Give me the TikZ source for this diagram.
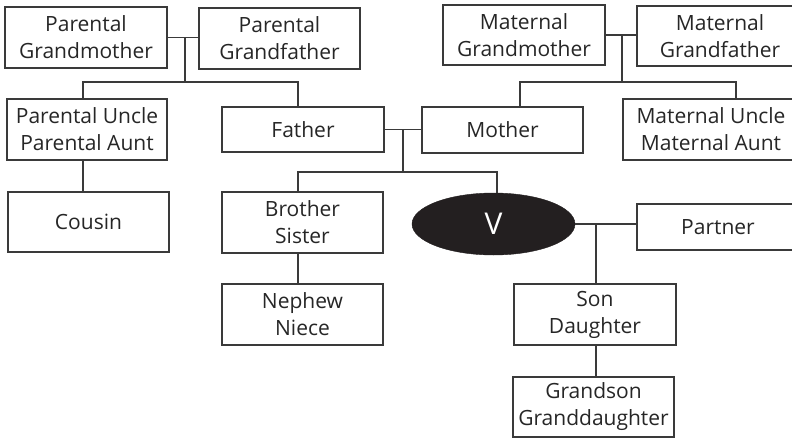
\documentclass[tikz,border=0pt]{standalone}
\usepackage{fontspec}
\setmainfont{Open Sans}
\usetikzlibrary{shapes.geometric}
\definecolor{ln}{HTML}{3A3A3A}
\definecolor{vfill}{HTML}{231F20}
\tikzset{
  box/.style={draw=ln, line width=1.1pt, rectangle, inner sep=0pt, align=center,
    font=\fontsize{21}{27}\selectfont, text=black!85},
  link/.style={draw=ln, line width=1.2pt},
}
\begin{document}
\begin{tikzpicture}[x=1pt,y=-1pt]
\useasboundingbox (0,0) rectangle (792,439);
\begin{scope}
\clip (0,0) rectangle (792,439);
% paternal side
\node[box, minimum width=162pt, minimum height=61pt] (pgm) at (86,37.5) {Parental\\Grandmother};
\node[box, minimum width=161pt, minimum height=61pt] (pgf) at (279.5,38.5) {Parental\\Grandfather};
\node[box, minimum width=160pt, minimum height=61pt] (pu) at (87,129.5) {Parental Uncle\\Parental Aunt};
\node[box, minimum width=162pt, minimum height=45pt] (fa) at (303,129.5) {Father};
\node[box, minimum width=161pt, minimum height=60pt] (co) at (88.5,222) {Cousin};
% maternal side
\node[box, minimum width=162pt, minimum height=60pt] (mgm) at (524,35) {Maternal\\Grandmother};
\node[box, minimum width=166pt, minimum height=60pt] (mgf) at (720,36) {Maternal\\Grandfather};
\node[box, minimum width=176pt, minimum height=61pt] (mu) at (711,129.5) {Maternal Uncle\\Maternal Aunt};
\node[box, minimum width=161pt, minimum height=46pt] (mo) at (502.5,130) {Mother};
% siblings and V
\node[box, minimum width=161pt, minimum height=61pt] (bs) at (302.5,222.5) {Brother\\Sister};
\node[box, minimum width=161pt, minimum height=61pt] (nn) at (302.5,314.5) {Nephew\\Niece};
\node[ellipse, fill=vfill, draw=vfill, minimum width=163pt, minimum height=62pt, inner sep=0pt,
  text=white, font=\fontsize{30}{32}\selectfont] (v) at (493.5,224) {V};
\node[box, minimum width=162pt, minimum height=46pt] (pa) at (718,227) {Partner};
\node[box, minimum width=162pt, minimum height=61pt] (sd) at (595,314.5) {Son\\Daughter};
\node[box, minimum width=161pt, minimum height=60pt] (gs) at (593.5,407) {Grandson\\Granddaughter};

% paternal grandparents
\coordinate (pj) at (185,37.5);
\coordinate (pbar) at (185,82);
\draw[link] (pgm.east) -- (pgm.east -| pgf.west);
\draw[link] (pj) -- (pbar);
\draw[link] ([xshift=-4pt]pu.north) |- (pbar) -| ([xshift=-5pt]fa.north);
\draw[link] ([xshift=-4pt]pu.south) -- ([xshift=-4pt]pu.south |- co.north);
% parents
\coordinate (fj) at (403,129.5);
\coordinate (fbar) at (403,172);
\draw[link] (fa.east) -- (fa.east -| mo.west);
\draw[link] (fj) -- (fbar);
\draw[link] ([xshift=-4.5pt]bs.north) |- (fbar) -| ([xshift=3.5pt]v.north);
\draw[link] ([xshift=-4.5pt]bs.south) -- ([xshift=-4.5pt]bs.south |- nn.north);
% maternal grandparents
\coordinate (mj) at (622,35);
\coordinate (mbar) at (622,82);
\draw[link] (mgm.east) -- (mgm.east -| mgf.west);
\draw[link] (mj) -- (mbar);
\draw[link] ([xshift=17.5pt]mo.north) |- (mbar) -| ([xshift=25pt]mu.north);
% V and partner
\coordinate (vj) at (596,224);
\draw[link] (v.east) -- (v.east -| pa.west);
\draw[link] (vj) -- ([xshift=1pt]sd.north);
\draw[link] ([xshift=1pt]sd.south) -- ([xshift=1pt]sd.south |- gs.north);
\end{scope}
\end{tikzpicture}
\end{document}
